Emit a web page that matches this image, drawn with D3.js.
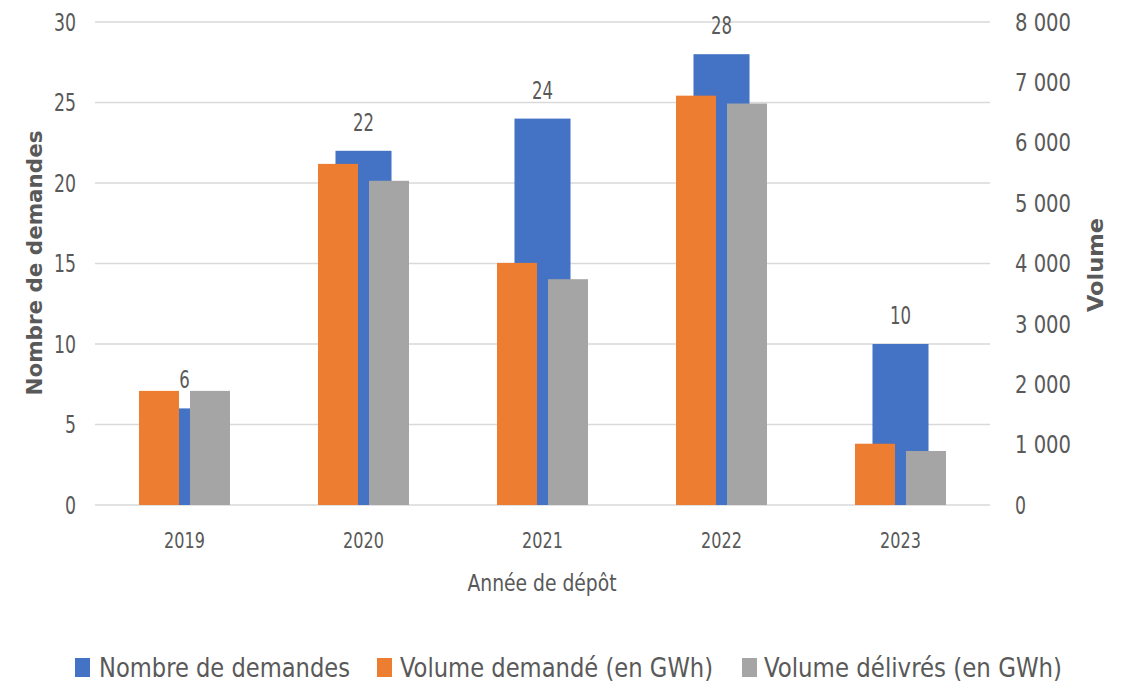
<!DOCTYPE html>
<html><head><meta charset="utf-8">
<script src="https://cdn.jsdelivr.net/npm/d3@7"></script>
<style>
body{margin:0;background:#fff;}
text{font-family:"Liberation Sans Narrow","DejaVu Sans Condensed","Liberation Sans",sans-serif;fill:#595959;}
</style></head>
<body><svg id="c" width="1127" height="686"></svg>
<script>
const years = ["2019","2020","2021","2022","2023"];
const nombreDemandes = [6, 22, 24, 28, 10];
const volumeDemande = [1890, 5650, 4010, 6780, 1015];
const volumeDelivre = [1890, 5370, 3740, 6650, 895];
const leftTicks = [0,5,10,15,20,25,30];
const rightTicks = [0,1000,2000,3000,4000,5000,6000,7000,8000];
const seriesNames = ["Nombre de demandes","Volume demandé (en GWh)","Volume délivrés (en GWh)"];
const colors = ["#4472C4","#ED7D31","#A5A5A5"];

const svg = d3.select("#c");
const x = d3.scaleBand().domain(years).range([95,990]).padding(0);
const yL = d3.scaleLinear().domain([0,30]).range([505,22]);
const yR = d3.scaleLinear().domain([0,8000]).range([505,22]);
const bw = x.bandwidth();
const cx = d => x(d) + bw/2;

// width helper for numeric labels (narrow, Calibri-like digits)
const numLen = (s, dw) => String(s).split("").reduce((a,c)=>a + (c===" " ? 12 : dw), 0);
function fitNum(sel, dw){
  sel.attr("textLength", function(){ return numLen(this.textContent, dw); })
     .attr("lengthAdjust","spacingAndGlyphs");
}

// gridlines
svg.append("g").selectAll("line").data(leftTicks).join("line")
  .attr("x1",95).attr("x2",990).attr("y1",d=>yL(d)).attr("y2",d=>yL(d))
  .attr("stroke","#d9d9d9").attr("stroke-width",1.6);

// left axis labels
svg.append("g").selectAll("text").data(leftTicks).join("text")
  .attr("x",76).attr("y",d=>yL(d)).attr("dy","0.36em").attr("text-anchor","end")
  .style("font-size","24px").text(d=>d).call(fitNum, 11);

// right axis labels
const fmt = d => d3.format(",")(d).replace(/,/g," ");
svg.append("g").selectAll("text").data(rightTicks).join("text")
  .attr("x",1015).attr("y",d=>yR(d)).attr("dy","0.36em").attr("text-anchor","start")
  .style("font-size","24px").text(fmt).call(fitNum, 11);

// blue bars
const blueW = bw*0.313;
svg.append("g").selectAll("rect").data(years).join("rect")
  .attr("x",d=>cx(d)-blueW/2).attr("width",blueW)
  .attr("y",(d,i)=>yL(nombreDemandes[i])).attr("height",(d,i)=>yL(0)-yL(nombreDemandes[i]))
  .attr("fill",colors[0]);
const smW = 40, gap = 11;
svg.append("g").selectAll("rect").data(years).join("rect")
  .attr("x",d=>cx(d)-gap/2-smW).attr("width",smW)
  .attr("y",(d,i)=>yR(volumeDemande[i])).attr("height",(d,i)=>yR(0)-yR(volumeDemande[i]))
  .attr("fill",colors[1]);
svg.append("g").selectAll("rect").data(years).join("rect")
  .attr("x",d=>cx(d)+gap/2).attr("width",smW)
  .attr("y",(d,i)=>yR(volumeDelivre[i])).attr("height",(d,i)=>yR(0)-yR(volumeDelivre[i]))
  .attr("fill",colors[2]);

// data labels
svg.append("g").selectAll("text").data(years).join("text")
  .attr("x",d=>cx(d)).attr("y",(d,i)=>yL(nombreDemandes[i])-20)
  .attr("text-anchor","middle").style("font-size","24px")
  .text((d,i)=>nombreDemandes[i]).call(fitNum, 10.5);

// x tick labels
svg.append("g").selectAll("text").data(years).join("text")
  .attr("x",d=>cx(d)).attr("y",548).attr("text-anchor","middle")
  .style("font-size","21px").text(d=>d).call(fitNum, 10.2);

// x title
svg.append("text").attr("x",542).attr("y",591).attr("text-anchor","middle")
  .style("font-size","23px").attr("textLength",149).attr("lengthAdjust","spacingAndGlyphs")
  .text("Année de dépôt");

// y titles
svg.append("text").attr("transform","translate(42,263) rotate(-90)")
  .attr("text-anchor","middle").style("font-size","22px").style("font-weight","bold")
  .attr("textLength",265).attr("lengthAdjust","spacingAndGlyphs")
  .text("Nombre de demandes");
svg.append("text").attr("transform","translate(1103,265) rotate(-90)")
  .attr("text-anchor","middle").style("font-size","22px").style("font-weight","bold")
  .attr("textLength",94).attr("lengthAdjust","spacingAndGlyphs")
  .text("Volume");

// legend
const leg = [
  {sx:75, tx:99, w:251},
  {sx:377, tx:400, w:313},
  {sx:742, tx:764, w:298}
];
const lg = svg.append("g");
leg.forEach((l,i)=>{
  lg.append("rect").attr("x",l.sx).attr("y",658).attr("width",15).attr("height",19).attr("fill",colors[i]);
  lg.append("text").attr("x",l.tx).attr("y",677).style("font-size","27px")
    .attr("textLength",l.w).attr("lengthAdjust","spacingAndGlyphs").text(seriesNames[i]);
});
</script></body></html>
